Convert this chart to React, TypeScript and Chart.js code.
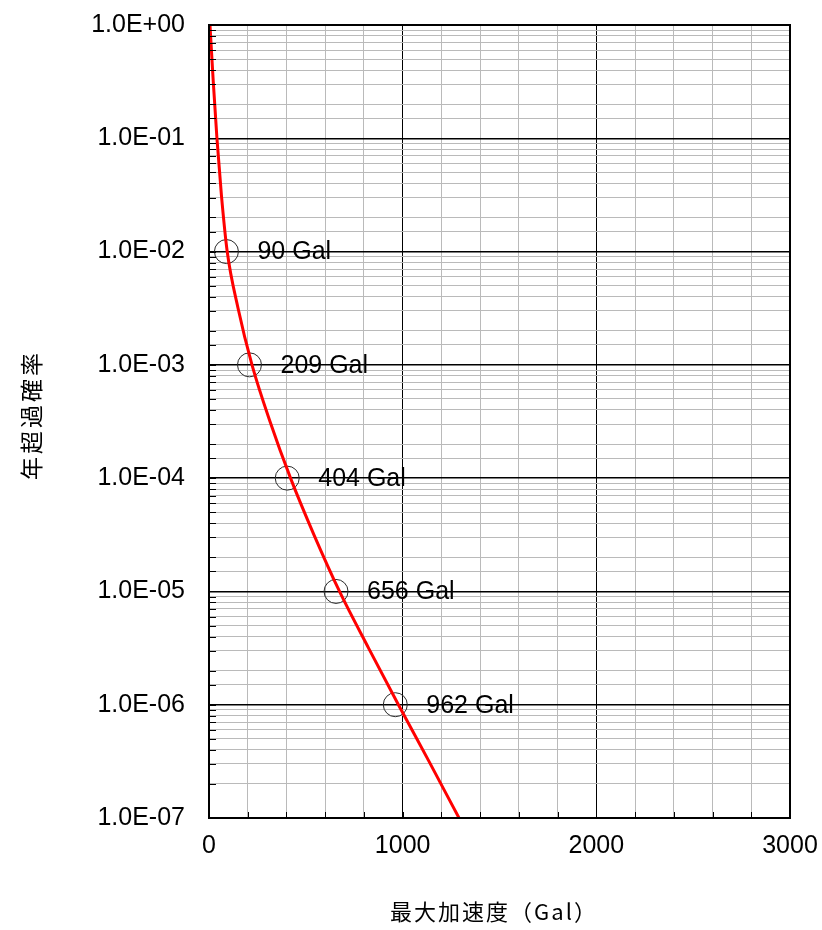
import React, { useEffect, useRef } from 'react';
import { Chart, registerables } from 'chart.js';

Chart.register(...registerables);

// Hazard curve
const curveGal = [5, 22, 41, 64, 94, 150, 222, 315, 421, 542, 674, 824, 978, 1136, 1291];
const curveRate = [1, 0.316, 0.1, 0.0316, 0.01, 3.16e-3, 1e-3, 3.16e-4, 1e-4, 3.16e-5, 1e-5, 3.16e-6, 1e-6, 3.16e-7, 1e-7];

// Marked points
const markGal = [90, 209, 404, 656, 962];
const markRate = [1e-2, 1e-3, 1e-4, 1e-5, 1e-6];
const markLabels = ['90 Gal', '209 Gal', '404 Gal', '656 Gal', '962 Gal'];

// Axes
const xMin = 0;
const xMax = 3000;
const xMinorStep = 200;
const xMajorStep = 1000;
const yMin = 1e-7;
const yMax = 1;
const xTitle = '最大加速度（Gal）';
const yTitle = '年超過確率';

const LATIN = "'Liberation Sans', Arial, sans-serif";
const CJK = "'Noto Sans CJK JP', sans-serif";

const isDecade = (v: number) => {
  const l = Math.log10(v);
  return Math.abs(l - Math.round(l)) < 1e-6;
};
const fmtExp = (v: number) => {
  const e = Math.round(Math.log10(v));
  const sign = e < 0 ? '-' : '+';
  return '1.0E' + sign + String(Math.abs(e)).padStart(2, '0');
};
const isXMajor = (v: number) => Math.abs(v % xMajorStep) < 1e-6;

const framePlugin = {
  id: 'framePlugin',
  afterDatasetsDraw(chart: any) {
    const { ctx } = chart;
    const meta = chart.getDatasetMeta(1);
    ctx.save();
    ctx.font = `25px ${LATIN}`;
    ctx.fillStyle = '#000';
    ctx.textAlign = 'left';
    ctx.textBaseline = 'middle';
    meta.data.forEach((pt: any, i: number) => {
      ctx.fillText(markLabels[i], pt.x + 31, pt.y + 1);
    });
    ctx.restore();
  },
  afterDraw(chart: any) {
    const { ctx, chartArea, scales } = chart;
    const { left, right, top, bottom } = chartArea;
    ctx.save();
    // inward tick marks
    ctx.strokeStyle = '#000';
    ctx.lineWidth = 1;
    ctx.beginPath();
    scales.y.ticks.forEach((t: any) => {
      const y = Math.round(scales.y.getPixelForValue(t.value)) + 0.5;
      ctx.moveTo(left, y);
      ctx.lineTo(left + 7, y);
    });
    scales.x.ticks.forEach((t: any) => {
      const x = Math.round(scales.x.getPixelForValue(t.value)) + 0.5;
      ctx.moveTo(x, bottom);
      ctx.lineTo(x, bottom - 6);
    });
    ctx.stroke();
    // frame
    ctx.lineWidth = 2;
    ctx.strokeRect(left, top, right - left, bottom - top);

    // axis titles
    ctx.fillStyle = '#000';
    ctx.textAlign = 'center';
    ctx.textBaseline = 'middle';
    ctx.font = `22px ${CJK}`;
    try {
      (ctx as any).letterSpacing = '2px';
    } catch (e) {}
    ctx.fillText(xTitle, 494, 912);
    ctx.translate(31, 415);
    ctx.rotate(-Math.PI / 2);
    ctx.font = `23px ${CJK}`;
    try {
      (ctx as any).letterSpacing = '3px';
    } catch (e) {}
    ctx.fillText(yTitle, 0, 0);
    ctx.restore();
  },
};

export default function App() {
  const ref = useRef<HTMLCanvasElement | null>(null);

  useEffect(() => {
    if (!ref.current) return;
    const chart = new Chart(ref.current, {
      type: 'line',
      data: {
        datasets: [
          {
            label: 'curve',
            data: curveGal.map((g, i) => ({ x: g, y: curveRate[i] })),
            borderColor: '#ff0000',
            borderWidth: 3,
            pointRadius: 0,
            fill: false,
            cubicInterpolationMode: 'monotone',
            order: 0,
          },
          {
            label: 'marks',
            type: 'scatter',
            data: markGal.map((g, i) => ({ x: g, y: markRate[i] })),
            borderColor: '#2a2a2a',
            backgroundColor: 'rgba(0,0,0,0)',
            borderWidth: 1,
            pointRadius: 12,
            pointStyle: 'circle',
            showLine: false,
            order: 1,
          } as any,
        ],
      },
      options: {
        responsive: false,
        animation: false,
        devicePixelRatio: 1,
        layout: { padding: { left: 0, right: 32, top: 25, bottom: 0 } },
        plugins: {
          legend: { display: false },
          tooltip: { enabled: false },
        },
        scales: {
          x: {
            type: 'linear',
            min: xMin,
            max: xMax,
            afterFit: (s: any) => {
              s.height = 112;
              s.paddingLeft = 0;
              s.paddingRight = 0;
            },
            ticks: {
              stepSize: xMinorStep,
              autoSkip: false,
              maxRotation: 0,
              padding: 13,
              color: '#000',
              font: { family: LATIN, size: 25 },
              callback: (v: any) => (isXMajor(Number(v)) ? String(v) : ''),
            },
            grid: {
              drawTicks: false,
              color: (c: any) => {
                const v = c.tick ? c.tick.value : 0;
                return isXMajor(v) ? '#000000' : '#bababa';
              },
              lineWidth: 1,
            },
            border: { display: true, color: '#000', width: 2 },
          },
          y: {
            type: 'logarithmic',
            min: yMin,
            max: yMax,
            afterFit: (s: any) => {
              s.width = 209;
              s.paddingTop = 0;
              s.paddingBottom = 0;
            },
            ticks: {
              autoSkip: false,
              padding: 24,
              color: '#000',
              font: { family: LATIN, size: 25 },
              callback: (v: any) => (isDecade(Number(v)) ? fmtExp(Number(v)) : ''),
            },
            grid: {
              drawTicks: false,
              color: (c: any) => {
                const v = c.tick ? c.tick.value : 1;
                return isDecade(v) ? '#000000' : '#bababa';
              },
              lineWidth: (c: any) => {
                const v = c.tick ? c.tick.value : 1;
                return isDecade(v) ? 1.5 : 1;
              },
            },
            border: { display: true, color: '#000', width: 2 },
          },
        },
      },
      plugins: [framePlugin],
    } as any);
    return () => chart.destroy();
  }, []);

  return (
    <div style={{ position: 'absolute', left: 0, top: 0, width: 822, height: 930 }}>
      <canvas ref={ref} width={822} height={930} style={{ width: 822, height: 930, display: 'block' }} />
    </div>
  );
}
